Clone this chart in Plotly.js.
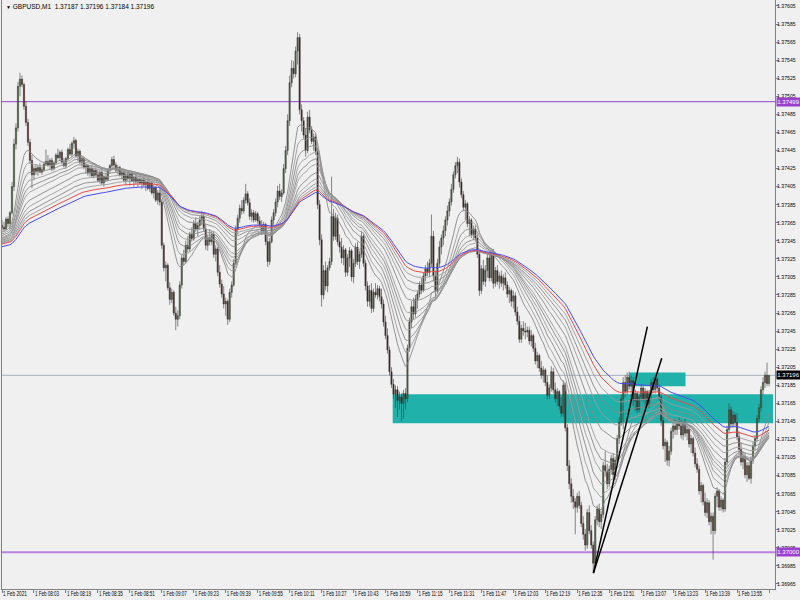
<!DOCTYPE html>
<html>
<head>
<meta charset="utf-8">
<script src="https://cdn.plot.ly/plotly-3.0.1.min.js"></script>
<style>html,body{margin:0;padding:0;background:#f0f0f0;}#chart{width:800px;height:600px;}</style>
</head>
<body>
<div id="chart"></div>
<script>
// Prices are stored in points (0.00001) above 1.37000
const openPts = [
362,360,358,369,364,376,405,452,470,516, 524,518,494,476,454,434,418,425,422,426,
421,424,430,433,429,434,425,431,440,437, 443,432,428,436,446,441,453,456,439,444,
432,436,426,428,420,425,417,423,418,412, 421,409,416,413,423,428,435,429,423,426,
418,421,412,418,414,419,411,415,410,413, 409,412,407,410,403,409,398,404,390,398,
388,340,315,318,293,280,288,265,258,262, 296,326,322,340,336,352,347,364,358,362,
368,372,358,340,348,344,352,330,336,310, 297,286,275,278,258,288,296,320,358,370,
381,378,390,397,387,372,376,368,375,367, 362,356,363,344,322,344,368,376,388,400,
394,398,425,445,478,520,536,530,555,570, 490,478,462,445,482,468,455,460,444,385,
346,285,312,295,315,322,372,350,370,344, 338,326,335,310,326,334,305,320,338,322,
330,350,320,295,278,290,270,288,285,292, 283,275,255,240,224,200,186,175,180,168,
172,165,176,170,226,255,272,264,280,286, 296,290,306,314,310,320,350,306,290,320,
338,348,356,368,378,388,402,418,428,432, 410,396,382,386,364,368,352,358,348,330,
290,314,300,312,326,304,330,298,312,300, 306,298,304,296,286,290,278,284,266,256,
236,248,245,244,246,234,240,226,212,218, 204,196,202,188,174,182,200,180,170,178,
162,154,185,138,96,76,62,56,50,62, 52,32,20,8,44,24,8,-12,36,48,
34,42,96,90,76,92,104,86,102,126, 144,170,188,178,194,184,190,168,176,158,
172,182,170,178,164,176,188,180,192,182, 172,146,118,122,102,112,134,140,136,142,
140,130,142,132,136,120,126,110,98,92, 68,74,56,44,55,34,40,24,62,68,
50,58,48,100,136,158,142,152,144,128, 114,100,106,86,96,82,102,118,126,148,
160,180,188,196,187
];
const highPts = [
368,366,371,372,378,410,458,475,521,531, 528,520,500,480,458,440,428,430,428,431,
427,432,446,440,436,437,433,442,447,445, 446,437,438,448,452,455,460,458,447,446,
439,438,431,430,428,429,426,427,424,423, 424,418,420,425,430,438,439,432,429,428,
424,425,420,423,421,422,417,420,416,418, 415,416,413,414,412,411,407,406,401,405,
391,343,322,320,299,292,290,272,268,300, 330,335,345,350,355,360,368,371,366,372,
378,376,364,352,358,356,355,340,338,318, 302,295,282,280,292,300,325,362,374,385,
390,393,408,400,392,380,379,378,377,372, 368,366,365,350,348,372,380,392,406,408,
402,430,450,485,528,545,544,560,576,574, 496,482,470,488,490,472,464,463,448,390,
352,318,322,318,326,416,380,376,374,352, 348,340,337,330,338,336,325,342,344,334,
356,354,324,300,296,298,292,298,296,295, 292,280,262,248,228,205,192,185,184,178,
176,180,182,230,260,278,282,285,290,300, 304,310,318,322,325,374,356,312,325,345,
352,362,372,384,392,408,422,432,438,436, 414,400,390,388,372,370,362,362,352,334,
318,324,318,332,330,334,336,316,318,310, 312,308,310,300,294,292,290,288,272,262,
252,256,254,250,250,246,242,232,222,220, 212,206,204,196,186,206,204,188,182,180,
172,190,188,142,102,82,70,60,66,68, 56,40,26,48,52,30,12,40,52,54,
46,100,112,98,96,108,110,106,130,150, 175,194,196,199,200,196,194,180,178,176,
186,184,182,180,180,192,194,196,194,186, 176,150,126,124,118,138,146,148,146,150,
147,146,148,140,138,130,128,116,104,96, 78,76,66,60,58,44,44,66,72,70,
62,60,104,140,165,162,156,155,154,134, 122,112,110,100,100,106,122,130,152,164,
184,194,200,210,196
];
const lowPts = [
356,355,357,360,358,374,400,446,466,505, 515,490,472,450,430,403,412,418,417,420,
418,421,428,427,424,422,423,429,435,433, 430,426,425,434,439,438,447,437,433,430,
427,424,419,417,416,415,414,416,410,408, 407,405,410,411,419,426,427,420,418,416,
413,410,407,411,406,410,405,408,404,407, 402,405,400,401,399,396,392,388,385,384,
336,311,300,290,274,276,262,246,250,258, 292,318,320,332,333,344,345,355,350,357,
362,355,335,334,340,340,326,322,306,293, 282,270,262,252,255,282,294,318,352,365,
374,375,386,384,368,366,365,366,364,360, 352,353,340,316,318,342,360,372,382,390,
388,396,420,440,472,515,525,526,540,485, 466,458,438,442,464,452,445,440,380,340,
272,280,290,288,312,318,345,346,340,332, 320,318,305,306,316,300,298,316,318,314,
326,316,290,272,272,265,266,282,280,278, 270,250,236,220,196,182,170,160,150,158,
145,148,158,166,222,248,258,260,270,282, 286,288,300,306,305,316,300,282,286,316,
330,340,350,362,372,384,398,414,420,404, 392,378,368,360,350,348,346,344,326,284,
286,296,294,304,300,300,292,294,296,292, 294,290,292,282,276,272,270,262,252,232,
232,240,236,238,230,228,222,208,204,200, 192,188,184,170,170,178,176,166,162,158,
150,150,134,90,70,55,48,20,44,48, 28,14,2,4,20,4,-23,-16,30,28,
26,38,84,70,72,86,82,80,98,120, 140,136,172,174,180,170,162,156,154,155,
168,166,160,161,160,170,176,176,178,168, 140,114,100,96,95,108,126,130,130,136,
126,124,128,124,116,110,106,94,88,64, 55,52,40,38,30,20,-8,20,50,46,
46,44,45,96,132,138,138,140,124,110, 96,92,82,78,80,76,98,112,122,144,
156,174,182,184,184
];
const closePts = [
360,358,369,364,376,405,452,470,516,524, 518,494,476,454,434,418,425,422,426,421,
424,430,433,429,434,425,431,440,437,443, 432,428,436,446,441,453,456,439,444,432,
436,426,428,420,425,417,423,418,412,421, 409,416,413,423,428,435,429,423,426,418,
421,412,418,414,419,411,415,410,413,409, 412,407,410,403,409,398,404,390,398,388,
340,315,318,293,280,288,265,258,262,296, 326,322,340,336,352,347,364,358,362,368,
372,358,340,348,344,352,330,336,310,297, 286,275,278,258,288,296,320,358,370,381,
378,390,397,387,372,376,368,375,367,362, 356,363,344,322,344,368,376,388,400,394,
398,425,445,478,520,536,530,555,570,490, 478,462,445,482,468,455,460,444,385,346,
285,312,295,315,322,372,350,370,344,338, 326,335,310,326,334,305,320,338,322,330,
350,320,295,278,290,270,288,285,292,283, 275,255,240,224,200,186,175,180,168,172,
165,176,170,226,255,272,264,280,286,296, 290,306,314,310,320,350,306,290,320,338,
348,356,368,378,388,402,418,428,432,410, 396,382,386,364,368,352,358,348,330,290,
314,300,312,326,304,330,298,312,300,306, 298,304,296,286,290,278,284,266,256,236,
248,245,244,246,234,240,226,212,218,204, 196,202,188,174,182,200,180,170,178,162,
154,185,138,96,76,62,56,50,62,52, 32,20,8,44,24,8,-12,36,48,34,
42,96,90,76,92,104,86,102,126,144, 170,188,178,194,184,190,168,176,158,172,
182,170,178,164,176,188,180,192,182,172, 146,118,122,102,112,134,140,136,142,140,
130,142,132,136,120,126,110,98,92,68, 74,56,44,55,34,40,24,62,68,50,
58,48,100,136,158,142,152,144,128,114, 100,106,86,96,82,102,118,126,148,160,
180,188,196,187,196
];

// time axis labels (one every 16 one-minute bars)
const timeLabelBars = [0,16,32,48,64,80,96,112,128,144,160,176,192,208,224,240,256,272,288,304,320,336,352,368,384];
const timeLabels = ["1 Feb 2021","1 Feb 08:03","1 Feb 08:19","1 Feb 08:35","1 Feb 08:51","1 Feb 09:07","1 Feb 09:23",
  "1 Feb 09:39","1 Feb 09:55","1 Feb 10:11","1 Feb 10:27","1 Feb 10:43","1 Feb 10:59","1 Feb 11:15","1 Feb 11:31",
  "1 Feb 11:47","1 Feb 12:03","1 Feb 12:19","1 Feb 12:35","1 Feb 12:51","1 Feb 13:07","1 Feb 13:23","1 Feb 13:39",
  "1 Feb 13:55","1 Feb 14:11"];

// moving averages: periods and their values at the left edge (points)
const grayPeriods = [15,20,25,30,35,40,50,60,70,80];
const grayStart = [354,352,350,348,347,346,345,344,343,342];
const redPeriod = 90, redStart = 341;
const bluePeriod = 100, blueStart = 338;

// drawn objects
const levelPrices = [1.37499, 1.37000, 1.37196];
const levelLabels = ["1.37499", "1.37000", "1.37196"];
const zoneBars = [[195.6, 386.1], [314.1, 342.2]];
const zonePrices = [[1.37143, 1.37175], [1.37184, 1.37199]];
const trendBars = [[296.1, 323.1], [296.1, 330.3]];
const trendPrices = [[1.36977, 1.37250], [1.36977, 1.37215]];
const titleText = "GBPUSD,M1  1.37187 1.37196 1.37184 1.37196";

const toPrice = p => +(1.37 + p / 100000).toFixed(5);
const open = openPts.map(toPrice), high = highPts.map(toPrice), low = lowPts.map(toPrice), close = closePts.map(toPrice);
const bars = close.map((_, i) => i);

function ema(period, startPts) {
  const a = 2 / (period + 1);
  let e = toPrice(startPts);
  return close.map(c => (e = e + a * (c - e)));
}

const traces = [];
grayPeriods.forEach((p, k) => {
  traces.push({type: 'scatter', mode: 'lines', x: bars, y: ema(p, grayStart[k]),
    line: {color: k % 2 ? '#9c9c9c' : '#888888', width: 0.9}, hoverinfo: 'skip'});
});
traces.push({type: 'scatter', mode: 'lines', x: bars, y: ema(redPeriod, redStart), line: {color: '#ea4a4a', width: 1}, hoverinfo: 'skip'});
traces.push({type: 'scatter', mode: 'lines', x: bars, y: ema(bluePeriod, blueStart), line: {color: '#4a4cf2', width: 1}, hoverinfo: 'skip'});
traces.push({type: 'candlestick', x: bars, open: open, high: high, low: low, close: close,
  increasing: {line: {color: '#3a3a3a', width: 0.6}, fillcolor: '#3f7a1c'},
  decreasing: {line: {color: '#3a3a3a', width: 0.6}, fillcolor: '#700606'},
  whiskerwidth: 0, hoverinfo: 'skip'});

const shapes = [];
zoneBars.forEach((b, k) => shapes.push({type: 'rect', xref: 'x', yref: 'y', x0: b[0], x1: b[1],
  y0: zonePrices[k][0], y1: zonePrices[k][1], fillcolor: '#20b2aa', line: {width: 0}, layer: 'below'}));
const levelStyles = [{color: '#9340c8', width: 1}, {color: '#bb80e2', width: 2}, {color: '#a8b0b8', width: 1}];
levelPrices.forEach((p, k) => shapes.push({type: 'line', xref: 'paper', yref: 'y', x0: 0, x1: 1, y0: p, y1: p,
  line: levelStyles[k], layer: 'below'}));
trendBars.forEach((b, k) => shapes.push({type: 'line', xref: 'x', yref: 'y', x0: b[0], x1: b[1],
  y0: trendPrices[k][0], y1: trendPrices[k][1], line: {color: '#000000', width: 1.5}}));

const fontFam = 'Liberation Sans, Arial, sans-serif';
const labelBg = ['#9a3fd0', '#9a3fd0', '#000000'];
const annotations = levelPrices.map((p, k) => ({xref: 'paper', yref: 'y', x: 1, y: p, xanchor: 'left', yanchor: 'middle',
  text: levelLabels[k], showarrow: false, bgcolor: labelBg[k], width: 23, height: 8, borderpad: 0, xshift: 1,
  font: {family: fontFam, size: 6, color: '#ffffff'}}));
annotations.push({xref: 'paper', yref: 'paper', x: 0, y: 1, xanchor: 'left', yanchor: 'top', showarrow: false,
  text: '<span style="font-size:5px">▼</span> ' + titleText, xshift: 2, yshift: -1,
  font: {family: fontFam, size: 6.5, color: '#000000'}});

const layout = {
  width: 800, height: 600,
  margin: {l: 2, r: 25, t: 0, b: 11, pad: 0},
  paper_bgcolor: '#f0f0f0', plot_bgcolor: '#f0f0f0',
  showlegend: false,
  boxgap: 0.15,
  xaxis: {range: [0, 387], tickmode: 'array', tickvals: timeLabelBars, ticktext: timeLabels, tickangle: 0,
    ticks: 'outside', ticklen: 3, tickcolor: '#808080', showline: true, linecolor: '#808080', linewidth: 1, mirror: true,
    showgrid: false, zeroline: false, rangeslider: {visible: false}, ticklabelposition: 'outside right',
    ticklabelstandoff: -2, tickfont: {family: fontFam, size: 6.5, color: '#000000'}, fixedrange: true, automargin: false},
  yaxis: {side: 'right', range: [1.369594, 1.376116], tick0: 1.36965, dtick: 0.0002, tickformat: '.5f',
    ticks: 'outside', ticklen: 3, tickcolor: '#808080', showline: true, linecolor: '#808080', linewidth: 1, mirror: true,
    showgrid: false, zeroline: false, ticklabelstandoff: -3, tickfont: {family: fontFam, size: 5.4, color: '#000000'},
    fixedrange: true, automargin: false},
  shapes: shapes, annotations: annotations
};

// condense tick label glyphs to the narrow terminal font widths of the original
function condense(selector, targetWidth) {
  document.querySelectorAll(selector).forEach(t => {
    const w = t.getComputedTextLength();
    if (w > targetWidth) {
      t.setAttribute('textLength', targetWidth);
      t.setAttribute('lengthAdjust', 'spacingAndGlyphs');
    }
  });
}

Plotly.newPlot('chart', traces, layout, {staticPlot: true, displayModeBar: false}).then(() => {
  condense('g.xtick text', 24);
  condense('g.ytick text', 18.5);
});
</script>
</body>
</html>
